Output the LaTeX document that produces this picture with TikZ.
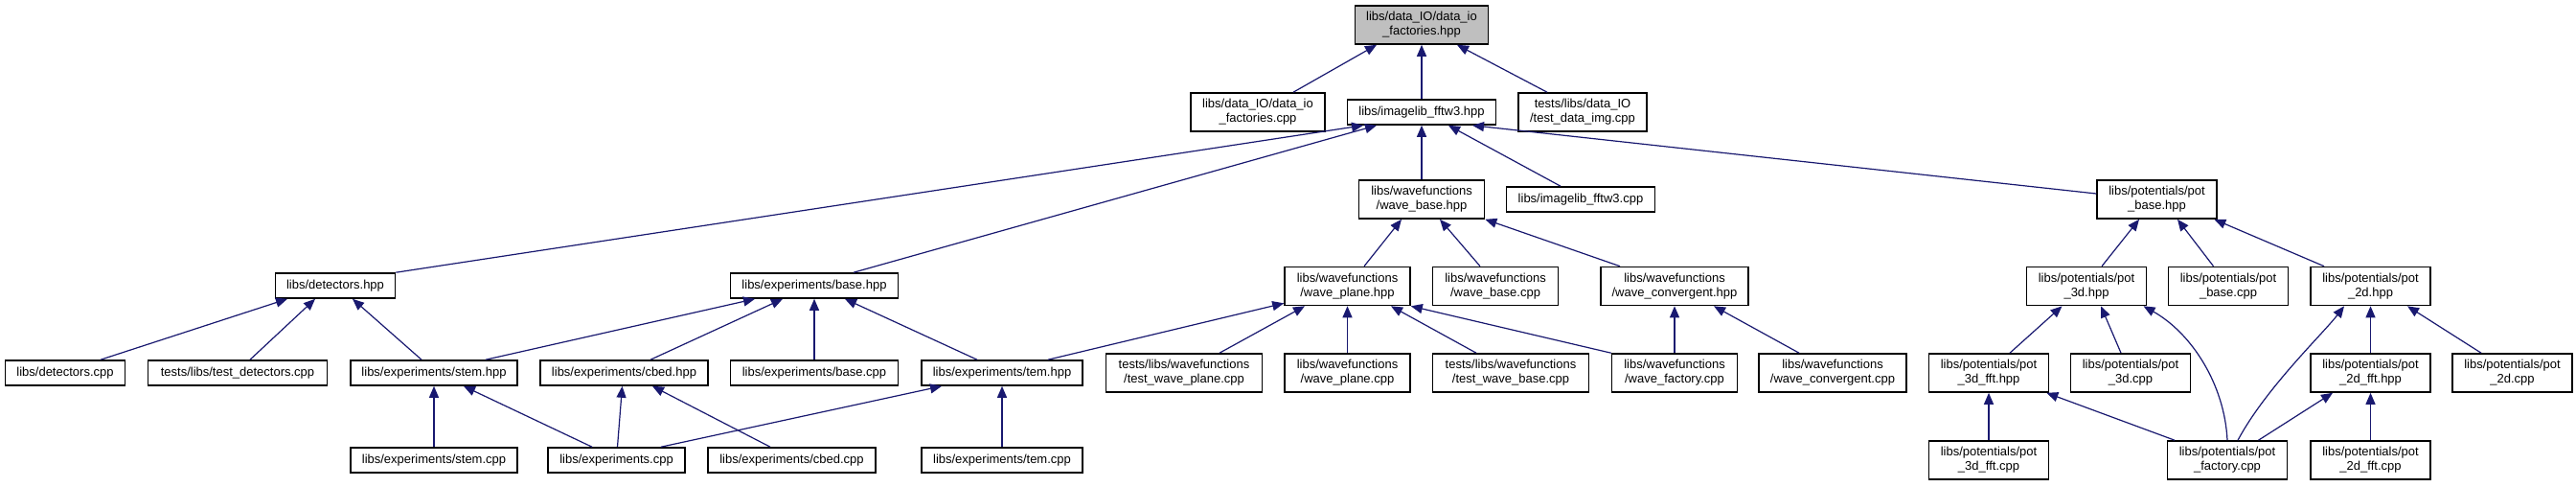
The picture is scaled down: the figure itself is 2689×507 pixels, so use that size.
\documentclass[tikz,border=0pt]{standalone}
\usepackage{fontspec}
\setmainfont{Liberation Sans}
\usetikzlibrary{arrows.meta}
\definecolor{edgeblue}{RGB}{25,25,112}
\definecolor{rootgray}{RGB}{191,191,191}
\tikzset{
  fbox/.style={draw=black, line width=1.6pt, fill=white, inner sep=0pt, align=center,
    minimum height=26pt, font=\fontsize{13}{15}\selectfont},
  dbl/.style={minimum height=40pt},
  dep/.style={draw=edgeblue, line width=1.2pt, -{Triangle[length=12pt,width=10pt]}},
}
\begin{document}
\begin{tikzpicture}[x=1pt,y=-1pt]
\useasboundingbox (0,0) rectangle (2689,507);
\fill[white] (0,0) rectangle (2689,507);
% row 0
\node[fbox,dbl,fill=rootgray,minimum width=139pt] (root) at (1484,26) {libs/data\_IO/data\_io\\\_factories.hpp};
% row 1
\node[fbox,dbl,minimum width=140pt] (diocpp) at (1313,117) {libs/data\_IO/data\_io\\\_factories.cpp};
\node[fbox,minimum width=155pt] (img) at (1484,117) {libs/imagelib\_fftw3.hpp};
\node[fbox,dbl,minimum width=134pt] (tdi) at (1652,117) {tests/libs/data\_IO\\/test\_data\_img.cpp};
% row 2
\node[fbox,dbl,minimum width=131pt] (wb) at (1484,208) {libs/wavefunctions\\/wave\_base.hpp};
\node[fbox,minimum width=155pt] (imgcpp) at (1650,208) {libs/imagelib\_fftw3.cpp};
\node[fbox,dbl,minimum width=125pt] (pb) at (2251.5,208) {libs/potentials/pot\\\_base.hpp};
% row 3
\node[fbox,minimum width=125pt] (det) at (350,298) {libs/detectors.hpp};
\node[fbox,minimum width=175pt] (ebase) at (850,298) {libs/experiments/base.hpp};
\node[fbox,dbl,minimum width=131pt] (wp) at (1406.5,298.5) {libs/wavefunctions\\/wave\_plane.hpp};
\node[fbox,dbl,minimum width=131pt] (wbcpp) at (1561,298.5) {libs/wavefunctions\\/wave\_base.cpp};
\node[fbox,dbl,minimum width=154pt] (wc) at (1748,298.5) {libs/wavefunctions\\/wave\_convergent.hpp};
\node[fbox,dbl,minimum width=125pt] (p3) at (2178,298.5) {libs/potentials/pot\\\_3d.hpp};
\node[fbox,dbl,minimum width=125pt] (pbcpp) at (2326,298.5) {libs/potentials/pot\\\_base.cpp};
\node[fbox,dbl,minimum width=125pt] (p2) at (2474.5,298.5) {libs/potentials/pot\\\_2d.hpp};
% row 4
\node[fbox,minimum width=125pt] (detcpp) at (68,389) {libs/detectors.cpp};
\node[fbox,minimum width=187pt] (tdet) at (248,389) {tests/libs/test\_detectors.cpp};
\node[fbox,minimum width=174pt] (stem) at (453,389) {libs/experiments/stem.hpp};
\node[fbox,minimum width=175pt] (cbed) at (651.5,389) {libs/experiments/cbed.hpp};
\node[fbox,minimum width=175pt] (ebcpp) at (850,389) {libs/experiments/base.cpp};
\node[fbox,minimum width=168pt] (tem) at (1046,389) {libs/experiments/tem.hpp};
\node[fbox,dbl,minimum width=163pt] (twp) at (1236,389) {tests/libs/wavefunctions\\/test\_wave\_plane.cpp};
\node[fbox,dbl,minimum width=131pt] (wpcpp) at (1406.5,389) {libs/wavefunctions\\/wave\_plane.cpp};
\node[fbox,dbl,minimum width=163pt] (twb) at (1577,389) {tests/libs/wavefunctions\\/test\_wave\_base.cpp};
\node[fbox,dbl,minimum width=131pt] (wf) at (1748,389) {libs/wavefunctions\\/wave\_factory.cpp};
\node[fbox,dbl,minimum width=154pt] (wccpp) at (1913,389) {libs/wavefunctions\\/wave\_convergent.cpp};
\node[fbox,dbl,minimum width=125pt] (p3f) at (2076,389) {libs/potentials/pot\\\_3d\_fft.hpp};
\node[fbox,dbl,minimum width=125pt] (p3cpp) at (2224,389) {libs/potentials/pot\\\_3d.cpp};
\node[fbox,dbl,minimum width=125pt] (p2f) at (2474.5,389) {libs/potentials/pot\\\_2d\_fft.hpp};
\node[fbox,dbl,minimum width=125pt] (p2cpp) at (2622.5,389) {libs/potentials/pot\\\_2d.cpp};
% row 5
\node[fbox,minimum width=174pt] (stemcpp) at (453,480) {libs/experiments/stem.cpp};
\node[fbox,minimum width=143pt] (ecpp) at (643.5,480) {libs/experiments.cpp};
\node[fbox,minimum width=175pt] (cbedcpp) at (826.5,480) {libs/experiments/cbed.cpp};
\node[fbox,minimum width=168pt] (temcpp) at (1046,480) {libs/experiments/tem.cpp};
\node[fbox,dbl,minimum width=125pt] (p3fcpp) at (2076,480) {libs/potentials/pot\\\_3d\_fft.cpp};
\node[fbox,dbl,minimum width=125pt] (pf) at (2325,480) {libs/potentials/pot\\\_factory.cpp};
\node[fbox,dbl,minimum width=125pt] (p2fcpp) at (2474.5,480) {libs/potentials/pot\\\_2d\_fft.cpp};
% edges
\draw[dep] ([xshift=37pt]diocpp.north) -- ([xshift=-47pt]root.south);
\draw[dep] (img.north) -- (root.south);
\draw[dep] ([xshift=-37pt]tdi.north) -- ([xshift=37pt]root.south);
\draw[dep] (det.north east) -- ([xshift=-61pt]img.south);
\draw[dep] ([xshift=41pt]ebase.north) -- ([xshift=-47pt]img.south);
\draw[dep] (wb.north) -- (img.south);
\draw[dep] ([xshift=-21pt]imgcpp.north) -- ([xshift=28pt]img.south);
\draw[dep] ([yshift=6pt]pb.west) -- ([xshift=53pt]img.south);
\draw[dep] ([xshift=37pt]detcpp.north) -- ([xshift=-50pt]det.south);
\draw[dep] ([xshift=13pt]tdet.north) -- ([xshift=-21pt]det.south);
\draw[dep] ([xshift=-13pt]stem.north) -- ([xshift=18pt]det.south);
\draw[dep] ([xshift=54pt]stem.north) -- ([xshift=-62pt]ebase.south);
\draw[dep] ([xshift=27.5pt]cbed.north) -- ([xshift=-33pt]ebase.south);
\draw[dep] (ebcpp.north) -- (ebase.south);
\draw[dep] ([xshift=-26pt]tem.north) -- ([xshift=32pt]ebase.south);
\draw[dep] (stemcpp.north) -- (stem.south);
\draw[dep] ([xshift=-25.5pt]ecpp.north) -- ([xshift=31pt]stem.south);
\draw[dep] ([xshift=1pt]ecpp.north) -- ([xshift=-2pt]cbed.south);
\draw[dep] ([xshift=-22.5pt]cbedcpp.north) -- ([xshift=29.5pt]cbed.south);
\draw[dep] ([xshift=46.5pt]ecpp.north) -- ([xshift=-63pt]tem.south);
\draw[dep] (temcpp.north) -- (tem.south);
\draw[dep] ([xshift=48pt]tem.north) -- ([yshift=3pt]wp.south west);
\draw[dep] ([xshift=37pt]twp.north) -- ([xshift=-44.5pt]wp.south);
\draw[dep] (wpcpp.north) -- (wp.south);
\draw[dep] ([xshift=-36pt]twb.north) -- ([xshift=45.5pt]wp.south);
\draw[dep] (wf.north west) -- (wp.south east);
\draw[dep] ([xshift=17.5pt]wp.north) -- ([xshift=-21pt]wb.south);
\draw[dep] ([xshift=-16pt]wbcpp.north) -- ([xshift=19pt]wb.south);
\draw[dep] ([xshift=-57pt]wc.north) -- (wb.south east);
\draw[dep] (wf.north) -- (wc.south);
\draw[dep] ([xshift=-35pt]wccpp.north) -- ([xshift=41pt]wc.south);
\draw[dep] ([xshift=16pt]p3.north) -- ([xshift=-18.5pt]pb.south);
\draw[dep] ([xshift=-15.5pt]pbcpp.north) -- ([xshift=21.5pt]pb.south);
\draw[dep] ([xshift=-48.5pt]p2.north) -- ([xshift=-3.5pt]pb.south east);
\draw[dep] ([xshift=22pt]p3f.north) -- ([xshift=-25.5pt]p3.south);
\draw[dep] ([xshift=-10pt]p3cpp.north) -- ([xshift=15pt]p3.south);
\draw[dep] (pf.north) .. controls (2322,400) and (2287,347) .. ([xshift=59.5pt]p3.south);
\draw[dep] (p3fcpp.north) -- (p3f.south);
\draw[dep] ([xshift=-55pt]pf.north) -- ([xshift=-3pt]p3f.south east);
\draw[dep] ([xshift=11pt]pf.north) .. controls (2365,405) and (2425,348) .. ([xshift=-27.5pt]p2.south);
\draw[dep] (p2f.north) -- (p2.south);
\draw[dep] ([xshift=-32.5pt]p2cpp.north) -- ([xshift=38.5pt]p2.south);
\draw[dep] ([xshift=32.5pt]pf.north) -- ([xshift=-39.5pt]p2f.south);
\draw[dep] (p2fcpp.north) -- (p2f.south);
\end{tikzpicture}
\end{document}
